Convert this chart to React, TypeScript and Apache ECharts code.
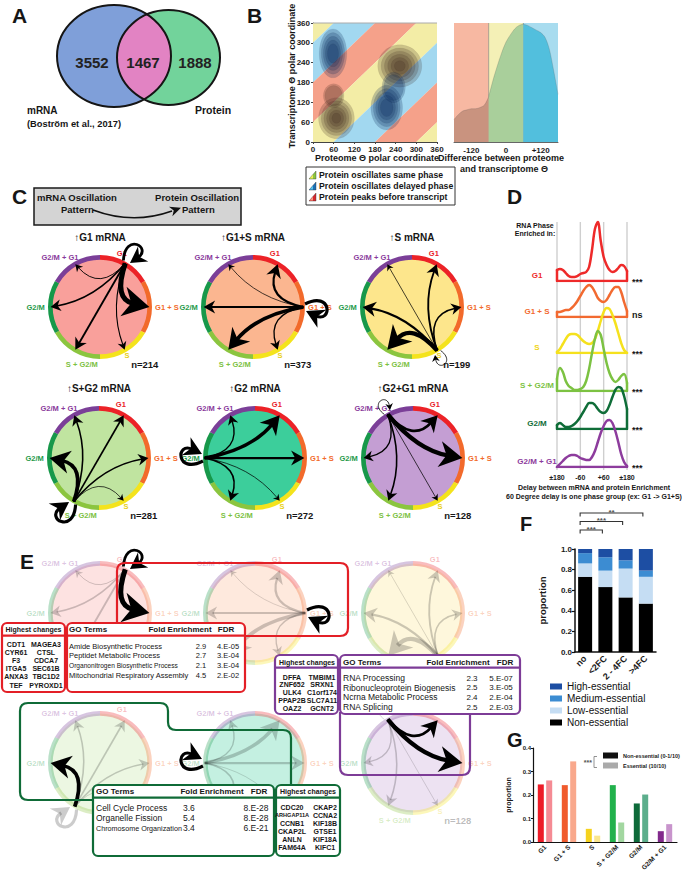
import React, { useEffect, useRef } from "react";
import * as echarts from "echarts";

const FONT = "'Liberation Sans', Arial, Helvetica, sans-serif";

/* ======================= DATA ======================= */
// A – Venn
const vennCounts = [3552, 1467, 1888];
const vennSetNames = ["mRNA", "Protein"];
const vennCitation = "(Boström et al., 2017)";

// B – left: proteome vs transcriptome polar coordinates
const polarTicks = [0, 60, 120, 180, 240, 300, 360];
const bandEdges = [-360, -300, -180, -60, 60, 180, 300, 360]; // proteome - transcriptome
const bandKinds = [0, 1, 2, 0, 1, 2, 0]; // 0 same, 1 delayed, 2 before
const densityPeaks = [[68, 72], [252, 230], [58, 268], [214, 104], [234, 165], [60, 140]];
const densitySpread = [[52, 62], [64, 64], [40, 74], [46, 68], [34, 46], [30, 36]];
const densityLevels = [6, 6, 5, 5, 2, 2];

// B – right: density of differences
const diffX = [-180, -165, -150, -135, -120, -105, -90, -75, -60, -45, -30, -15, 0, 15, 30, 45, 60, 75, 90, 105, 120, 135, 150, 165, 180];
const diffDensity = [0.19, 0.23, 0.26, 0.27, 0.28, 0.28, 0.29, 0.31, 0.38, 0.52, 0.64, 0.75, 0.84, 0.9, 0.95, 0.98, 0.99, 0.98, 0.96, 0.94, 0.92, 0.88, 0.78, 0.6, 0.4];
const diffTicks = [-120, 0, 120];
const diffBands = [[-180, -60, 2], [-60, 60, 0], [60, 180, 1]];
const bandLegend = ["Protein oscillates same phase", "Protein oscillates delayed phase", "Protein peaks before transcript"];

// C – transitions between phases
const phaseNames = ["G1", "G1 + S", "S", "S + G2/M", "G2/M", "G2/M + G1"];
const circleTitles = ["G1 mRNA", "G1+S mRNA", "S mRNA", "S+G2 mRNA", "G2 mRNA", "G2+G1 mRNA"];
const circleN = [214, 373, 199, 281, 272, 128];
const transitions = [
  [2.6, 5.0, 0.8, 1.6, 1.3, 0.6],
  [2.0, 3.0, 1.0, 3.6, 1.6, 0.4],
  [1.6, 1.3, 0.5, 4.2, 2.0, 0.4],
  [1.4, 1.3, 0.4, 3.0, 3.6, 1.3],
  [3.2, 2.0, 0.4, 1.3, 3.0, 1.1],
  [2.6, 4.2, 0.4, 1.3, 1.1, 0.5],
];
const eHighlight = [[0, 1], [1], [], [4], [4], [0, 1]];

// D – delay ridgelines
const ridgeDelay = [-180, -165, -150, -135, -120, -105, -90, -75, -60, -45, -30, -15, 0, 15, 30, 45, 60, 75, 90, 105, 120, 135, 150, 165, 180];
const ridgeG1 = [11, 12, 11, 8, 5, 4, 4, 5, 7, 8, 9, 14, 31, 52, 59, 40, 24, 16, 11, 9, 10, 13, 16, 15, 10];
const ridgeG1S = [5, 5, 6, 7, 7, 9, 12, 16, 21, 26, 30, 32, 30, 25, 19, 16, 15, 17, 22, 27, 30, 30, 25, 15, 6];
const ridgeS = [1, 4, 9, 14, 18, 19, 19, 18, 15, 12, 10, 9, 10, 14, 22, 32, 41, 45, 44, 38, 30, 20, 10, 3, 0];
const ridgeSG2M = [12, 23, 19, 10, 5, 3, 1, 1, 2, 4, 10, 22, 38, 52, 60, 56, 42, 28, 18, 12, 9, 11, 15, 17, 8];
const ridgeG2M = [4, 6, 4, 2, 2, 3, 5, 8, 12, 17, 22, 26, 26, 24, 20, 17, 16, 18, 24, 32, 39, 42, 41, 33, 20];
const ridgeG2MG1 = [0, 3, 6, 9, 11, 12, 12, 11, 9, 8, 7, 7, 10, 16, 25, 34, 41, 46, 47, 44, 36, 25, 13, 5, 1];
const ridgeSig = ["***", "ns", "***", "***", "***", "***"];
const ridgeTickValues = [-180, -60, 60, 180];
const ridgeTickLabels = ["±180", "-60", "+60", "±180"];

// E – tables
const redGenes = [["CDT1", "MAGEA3"], ["CYR61", "CTSL"], ["F3", "CDCA7"], ["ITGA5", "SEC61B"], ["ANXA3", "TBC1D2"], ["TEF", "PYROXD1"]];
const redGO: [string, number, string][] = [["Amide Biosynthetic Process", 2.9, "4.E-05"], ["Peptidet Metabolic Process", 2.7, "3.E-04"], ["Organonitrogen Biosynthetic Process", 2.1, "3.E-04"], ["Mitochondrial Respiratory Assembly", 4.5, "2.E-02"]];
const purpleGenes = [["DFFA", "TMBIM1"], ["ZNF652", "SRXN1"], ["ULK4", "C1orf174"], ["PPAP2B", "SLC7A11"], ["OAZ2", "GCNT2"]];
const purpleGO: [string, number, string][] = [["RNA Processing", 2.3, "5.E-07"], ["Ribonucleoprotein Biogenesis", 2.5, "3.E-05"], ["Ncrna Metabolic Process", 2.4, "2.E-04"], ["RNA Splicing", 2.5, "2.E-03"]];
const greenGenes = [["CDC20", "CKAP2"], ["ARHGAP11A", "CCNA2"], ["CCNB1", "KIF18B"], ["CKAP2L", "GTSE1"], ["ANLN", "KIF18A"], ["FAM64A", "KIFC1"]];
const greenGO: [string, number, string][] = [["Cell Cycle Process", 3.6, "8.E-28"], ["Organelle Fission", 5.4, "8.E-28"], ["Chromosome Organization", 3.4, "6.E-21"]];

// F – essentiality by fold change
const fCats = ["no", "<2FC", "2 - 4FC", ">4FC"];
const fNon = [0.73, 0.63, 0.53, 0.47];
const fLow = [0.13, 0.16, 0.28, 0.26];
const fMed = [0.1, 0.13, 0.08, 0.06];
const fHigh = [0.04, 0.08, 0.11, 0.21];
const fSigPairs = [[0, 1], [0, 2], [0, 3]];
const fSigLabels = ["***", "***", "**"];

// G – phase proportion by essentiality
const gCats = ["G1", "G1 + S", "S", "S + G2/M", "G2/M", "G2/M + G1"];
const gNon = [0.245, 0.242, 0.056, 0.242, 0.164, 0.046];
const gEss = [0.262, 0.343, 0.027, 0.083, 0.202, 0.076];
const gSeriesNames = ["Non-essential (0-1/10)", "Essential (10/10)"];

/* ======================= STYLE / LAYOUT ======================= */
const BAND_HEAT = ["#f3eda6", "#a2d8f0", "#f5a18a"];
const BAND_LIGHT = ["#f4f0b6", "#a8dcef", "#f7b8a2"];
const DENS_FILL = ["#a9cf9b", "#52bfdd", "#c9937f"];
const phaseColors = ["#ec2227", "#f26a2b", "#f4e31c", "#8bc53f", "#17984a", "#7b3f98"];
const phaseLabelColors = ["#ea2128", "#f26a2b", "#e8cf16", "#7cc142", "#1f9a4a", "#8a3a9c"];
const circleFills = ["#f9a09b", "#fbb690", "#fde68c", "#c0e4a0", "#3cce9b", "#c49ed3"];
const labelPos: [number, number, string][] = [[0.42, -1.03, "center"], [1.06, 0, "left"], [0.52, 0.93, "center"], [-0.35, 1.1, "center"], [-1.06, 0, "right"], [-0.77, -0.95, "center"]];
const ridgeColors = ["#ee2a2a", "#f26a30", "#f5e11d", "#7cc242", "#0f6d38", "#8d3c9d"];
const ridgeBase = [281, 317, 353, 391, 429, 467];
const gNonColors = ["#ed1c28", "#f05a2c", "#f5d21e", "#22b14c", "#0e6b3a", "#822a8c"];
const gEssColors = ["#f58b94", "#f9a88c", "#fae68e", "#a2d7a0", "#5cae8c", "#c894cc"];
const cCenters = [[100, 307], [253, 307], [412, 307], [99, 458], [255, 458], [413, 458]];
const eCenters = [[100, 613], [255, 613], [413, 613], [100, 763], [255, 763], [413, 763]];
const eHiddenLabels = [[2, 3], [2, 3], [2, 3], [2, 3], [0, 2, 3], [0, 5]];
const eShowN = [false, false, false, false, false, true];
const CR = 52;
const RED = "#e31f26", PURPLE = "#7d3c97", DKGREEN = "#0f6b37";
const OUTLINES: [string, string, string][] = [
  ["eOutlineRed", "M117,623 L117,571 Q117,563 125,563 L340,563 Q348,563 348,571 L348,628 Q348,636 340,636 L245,636", RED],
  ["eOutlineGreen", "M93,800 L28,800 Q20,800 20,792 L20,711 Q20,703 28,703 L160,703 Q168,703 168,711 L168,722 Q168,730 176,730 L283,730 Q291,730 291,738 L291,785", DKGREEN],
  ["eOutlinePurple", "M340,712 L340,767 Q340,775 348,775 L462,775 Q470,775 470,767 L470,712", PURPLE],
];

/* ======================= HELPERS ======================= */
function textStyle(text: string, size: number, o: any) {
  const align = o.align || "left";
  const va = o.va || "middle";
  return {
    text, fill: o.color || "#161616", fontSize: size, fontWeight: o.weight || "bold", fontFamily: FONT,
    align, verticalAlign: va, textAlign: align, textVerticalAlign: va, opacity: o.opacity ?? 1,
  };
}
function T(x: number, y: number, text: string, size: number, o: any = {}) {
  return { type: "text", x, y, rotation: o.rot || 0, z: 60, silent: true, style: textStyle(text, size, o) };
}
function CT(x: number, y: number, text: string, size: number, o: any = {}) {
  return { type: "text", x, y, silent: true, style: textStyle(text, size, o) };
}
function clipHalf(poly: number[][], a: number, b: number, c: number) {
  const out: number[][] = [];
  for (let i = 0; i < poly.length; i++) {
    const p = poly[i], q = poly[(i + 1) % poly.length];
    const fp = a * p[0] + b * p[1] + c, fq = a * q[0] + b * q[1] + c;
    if (fp >= 0) out.push(p);
    if ((fp >= 0) !== (fq >= 0)) {
      const t = fp / (fp - fq);
      out.push([p[0] + (q[0] - p[0]) * t, p[1] + (q[1] - p[1]) * t]);
    }
  }
  return out;
}
function clipConvex(poly: number[][], clip: number[][]) {
  let cx = 0, cy = 0;
  clip.forEach((p) => { cx += p[0]; cy += p[1]; });
  cx /= clip.length; cy /= clip.length;
  let out = poly;
  for (let i = 0; i < clip.length; i++) {
    const p = clip[i], q = clip[(i + 1) % clip.length];
    let a = -(q[1] - p[1]), b = q[0] - p[0];
    let c = -(a * p[0] + b * p[1]);
    if (a * cx + b * cy + c < 0) { a = -a; b = -b; c = -c; }
    out = clipHalf(out, a, b, c);
  }
  return out;
}
function ellipsePoly(cx: number, cy: number, rx: number, ry: number, n = 120) {
  const pts: number[][] = [];
  for (let i = 0; i < n; i++) {
    const a = (2 * Math.PI * i) / n;
    pts.push([cx + rx * Math.cos(a), cy + ry * Math.sin(a)]);
  }
  return pts;
}
function bandKindAt(d: number) {
  for (let i = 0; i < bandKinds.length; i++) if (d >= bandEdges[i] && d < bandEdges[i + 1]) return bandKinds[i];
  return 0;
}
function arrowHead(tip: number[], dir: number[], len: number, hw: number) {
  const px = -dir[1], py = dir[0];
  const base = [tip[0] - dir[0] * len, tip[1] - dir[1] * len];
  const notch = [tip[0] - dir[0] * len * 0.7, tip[1] - dir[1] * len * 0.7];
  return [tip, [base[0] + px * hw, base[1] + py * hw], notch, [base[0] - px * hw, base[1] - py * hw]];
}

function circleBase(ci: number, faded: boolean, hiddenLabels: number[], showN: boolean) {
  return (_p: any, api: any) => {
    const c = api.coord([0, 0]);
    const R = api.size([1, 1])[0];
    const op = faded ? 0.3 : 1;
    const ch: any[] = [];
    ch.push({ type: "circle", shape: { cx: c[0], cy: c[1], r: R * 0.95 }, style: { fill: circleFills[ci], opacity: op } });
    for (let i = 0; i < 6; i++) {
      const s = ((60 * i - 90) * Math.PI) / 180;
      ch.push({ type: "sector", shape: { cx: c[0], cy: c[1], r0: R * 0.91, r: R, startAngle: s, endAngle: s + Math.PI / 3, clockwise: true }, style: { fill: phaseColors[i], opacity: op } });
      if (hiddenLabels.indexOf(i) >= 0) continue;
      const lp = labelPos[i];
      ch.push(CT(c[0] + lp[0] * R, c[1] + lp[1] * R, phaseNames[i], 7.5, { color: phaseLabelColors[i], align: lp[2], opacity: op }));
    }
    if (!faded) ch.push(CT(c[0], c[1] - R * 1.33, "\u2191" + circleTitles[ci], 10, { align: "center" }));
    if (showN) ch.push(CT(c[0] + 0.6 * R, c[1] + 1.1 * R, "n=" + circleN[ci], 9.5, { opacity: op }));
    return { type: "group", children: ch };
  };
}

function chordRender(src: number, faded: boolean) {
  return (_p: any, api: any) => {
    const t = api.value(0), w = api.value(1), hi = api.value(2);
    if (!(w > 0)) return null;
    const c = api.coord([0, 0]);
    const R = api.size([1, 1])[0];
    const ang = (i: number) => ((30 + 60 * i) * Math.PI) / 180;
    const P = (i: number, rr: number) => [c[0] + R * rr * Math.sin(ang(i)), c[1] - R * rr * Math.cos(ang(i))];
    const op = faded && !hi ? 0.2 : 1;
    const lw = 0.35 + w * 0.95;
    const hlen = 4.5 + w * 4.4, hw = 2.6 + w * 2.5;
    let start: number[], cp1: number[], cp2: number[] | null = null, tip: number[];
    if (t === src) {
      const a = ang(src);
      const u = [Math.sin(a), -Math.cos(a)], tg = [Math.cos(a), Math.sin(a)];
      const S = P(src, 1.0);
      const L = 12 + w * 3;
      start = [S[0] - tg[0] * 3, S[1] - tg[1] * 3];
      cp1 = [S[0] + u[0] * L * 1.3 - tg[0] * L * 0.8, S[1] + u[1] * L * 1.3 - tg[1] * L * 0.8];
      cp2 = [S[0] + u[0] * L * 1.3 + tg[0] * L * 0.8, S[1] + u[1] * L * 1.3 + tg[1] * L * 0.8];
      tip = [S[0] + u[0] * 1 + tg[0] * 4, S[1] + u[1] * 1 + tg[1] * 4];
    } else {
      start = P(src, 0.97);
      tip = P(t, 0.95);
      cp1 = [c[0] + ((start[0] + tip[0]) / 2 - c[0]) * 0.35, c[1] + ((start[1] + tip[1]) / 2 - c[1]) * 0.35];
    }
    const from = cp2 || cp1;
    let dx = tip[0] - from[0], dy = tip[1] - from[1];
    const dl = Math.hypot(dx, dy) || 1;
    dx /= dl; dy /= dl;
    const end = [tip[0] - dx * hlen * 0.6, tip[1] - dy * hlen * 0.6];
    const shape: any = { x1: start[0], y1: start[1], cpx1: cp1[0], cpy1: cp1[1], x2: end[0], y2: end[1] };
    if (cp2) { shape.cpx2 = cp2[0]; shape.cpy2 = cp2[1]; }
    return {
      type: "group",
      children: [
        { type: "bezierCurve", shape, style: { stroke: "#000", lineWidth: lw, fill: null, opacity: op } },
        { type: "polygon", shape: { points: arrowHead(tip, [dx, dy], hlen, hw) }, style: { fill: "#000", opacity: op } },
      ],
    };
  };
}

/* ======================= OPTION ======================= */
function buildOption(): any {
  const grid: any[] = [], xAxis: any[] = [], yAxis: any[] = [], series: any[] = [], graphic: any[] = [];
  const addGrid = (left: number, top: number, width: number, height: number, xa: any, ya: any) => {
    grid.push({ left, top, width, height, containLabel: false });
    const gi = grid.length - 1;
    xAxis.push({ gridIndex: gi, ...xa });
    yAxis.push({ gridIndex: gi, ...ya });
    return gi;
  };
  const hidden = (min: number, max: number) => ({ type: "value", min, max, show: false, splitLine: { show: false } });
  const lbl = (size: number) => ({ fontFamily: FONT, fontWeight: "bold", fontSize: size, color: "#1a1a1a" });

  // ----- panel letters -----
  graphic.push(T(12, 15, "A", 21), T(247, 15, "B", 21), T(12, 196, "C", 21), T(507, 196, "D", 21));
  graphic.push(T(20, 561, "E", 21), T(520, 524, "F", 20), T(507, 740, "G", 20));

  // ----- A: Venn -----
  const bE = [114, 56, 57, 51], gE = [168.5, 57.5, 51.5, 47.5];
  const lens = clipConvex(ellipsePoly(bE[0], bE[1], bE[2], bE[3]), ellipsePoly(gE[0], gE[1], gE[2], gE[3]));
  graphic.push({ type: "ellipse", z: 50, silent: true, shape: { cx: bE[0], cy: bE[1], rx: bE[2], ry: bE[3] }, style: { fill: "#7f9fd9" } });
  graphic.push({ type: "ellipse", z: 50, silent: true, shape: { cx: gE[0], cy: gE[1], rx: gE[2], ry: gE[3] }, style: { fill: "#72d39b" } });
  graphic.push({ type: "polygon", z: 51, silent: true, shape: { points: lens }, style: { fill: "#e283c3" } });
  graphic.push({ type: "ellipse", z: 52, silent: true, shape: { cx: bE[0], cy: bE[1], rx: bE[2], ry: bE[3] }, style: { fill: null, stroke: "#151515", lineWidth: 2 } });
  graphic.push({ type: "ellipse", z: 52, silent: true, shape: { cx: gE[0], cy: gE[1], rx: gE[2], ry: gE[3] }, style: { fill: null, stroke: "#151515", lineWidth: 2 } });
  graphic.push(T(92, 62, String(vennCounts[0]), 15, { align: "center", color: "#222" }));
  graphic.push(T(143, 62, String(vennCounts[1]), 15, { align: "center", color: "#222" }));
  graphic.push(T(195, 62, String(vennCounts[2]), 15, { align: "center", color: "#222" }));
  graphic.push(T(27, 110, vennSetNames[0], 10), T(27, 124, vennCitation, 9.3), T(195, 110, vennSetNames[1], 10.5));

  // ----- B left -----
  const axisB = () => ({
    type: "value", min: 0, max: 360,
    axisLine: { show: true, lineStyle: { color: "#444", width: 1 } },
    axisTick: { show: true, length: 2, customValues: polarTicks, lineStyle: { color: "#444" } },
    axisLabel: { ...lbl(8), margin: 3, customValues: polarTicks },
    splitLine: { show: false },
  });
  const gHeat = addGrid(313, 23, 124, 119, axisB(), axisB());
  series.push({
    type: "custom", xAxisIndex: gHeat, yAxisIndex: gHeat, silent: true, z: 1,
    data: bandKinds.map((k, i) => [i, k]),
    renderItem: (p: any, api: any) => {
      const i = p.dataIndex;
      let poly = [[0, 0], [360, 0], [360, 360], [0, 360]];
      poly = clipHalf(poly, 1, -1, -bandEdges[i]);
      poly = clipHalf(poly, -1, 1, bandEdges[i + 1]);
      if (poly.length < 3) return null;
      return { type: "polygon", shape: { points: poly.map((q) => api.coord(q)) }, style: { fill: BAND_HEAT[bandKinds[i]] } };
    },
  });
  series.push({
    type: "custom", xAxisIndex: gHeat, yAxisIndex: gHeat, silent: true, z: 2,
    data: densityPeaks,
    renderItem: (p: any, api: any) => {
      const i = p.dataIndex;
      const pk = densityPeaks[i];
      const c = api.coord(pk);
      const s = api.size(densitySpread[i]);
      const fill = bandKindAt(pk[0] - pk[1]) === 1 ? "rgba(8,40,90,0.23)" : "rgba(60,36,30,0.21)";
      const ch: any[] = [];
      for (let l = 0; l < densityLevels[i]; l++) {
        const f = 1 - l * 0.15;
        ch.push({ type: "ellipse", shape: { cx: c[0], cy: c[1], rx: s[0] * f, ry: s[1] * f }, style: { fill, stroke: "rgba(0,0,0,0.07)", lineWidth: 0.6 } });
      }
      return { type: "group", children: ch };
    },
  });
  graphic.push({ type: "line", z: 55, silent: true, shape: { x1: 313, y1: 23, x2: 437, y2: 23 }, style: { stroke: "#aaa", lineWidth: 1 } });
  graphic.push(T(292, 76, "Transcriptome Θ polar coordinate", 9, { align: "center", rot: Math.PI / 2 }));
  graphic.push(T(377, 158, "Proteome Θ polar coordinate", 9, { align: "center" }));

  // ----- B right -----
  const gDiff = addGrid(454, 23, 104, 119,
    {
      type: "value", min: -180, max: 180,
      axisLine: { show: true, lineStyle: { color: "#666" } }, axisTick: { show: false },
      axisLabel: { ...lbl(8), margin: 4, customValues: diffTicks, formatter: (v: number) => (v > 0 ? "+" + v : String(v)) },
      splitLine: { show: false },
    },
    hidden(0, 1));
  series.push({
    type: "custom", xAxisIndex: gDiff, yAxisIndex: gDiff, silent: true, z: 1,
    data: diffBands,
    renderItem: (p: any, api: any) => {
      const a = api.coord([api.value(0), 1]);
      const b = api.coord([api.value(1), 0]);
      const ch: any[] = [{ type: "rect", shape: { x: a[0], y: a[1], width: b[0] - a[0], height: b[1] - a[1] }, style: { fill: BAND_LIGHT[api.value(2)] } }];
      if (p.dataIndex > 0) ch.push({ type: "line", shape: { x1: a[0], y1: a[1], x2: a[0], y2: b[1] }, style: { stroke: "rgba(90,90,90,0.6)", lineWidth: 0.8 } });
      return { type: "group", children: ch };
    },
  });
  diffBands.forEach((bd) => {
    const pts = diffX.map((x, i) => [x, diffDensity[i]]).filter((q) => q[0] >= bd[0] && q[0] <= bd[1]);
    series.push({
      type: "line", xAxisIndex: gDiff, yAxisIndex: gDiff, data: pts, smooth: 0.3, symbol: "none", silent: true, z: 2,
      lineStyle: { width: 0.6, color: "rgba(80,80,80,0.35)" }, areaStyle: { color: DENS_FILL[bd[2]], opacity: 1 },
    });
  });
  graphic.push(T(501, 158, "Difference between proteome", 9, { align: "center" }));
  graphic.push(T(504, 169, "and transcriptome Θ", 9, { align: "center" }));

  // B legend box
  graphic.push({ type: "rect", z: 55, silent: true, shape: { x: 306, y: 167, width: 149, height: 38 }, style: { fill: "#fff", stroke: "#333", lineWidth: 1 } });
  const bIcon = [["#f2ea5a", "#8cc63f"], ["#59c3ea", "#1b6fb6"], ["#f59a82", "#d7282d"]];
  bandLegend.forEach((label, i) => {
    const y = 175 + i * 11, x = 309;
    graphic.push({ type: "polygon", z: 56, silent: true, shape: { points: [[x, y + 4], [x + 7, y - 4], [x + 7, y + 4]] }, style: { fill: bIcon[i][1], stroke: "#333", lineWidth: 0.4 } });
    graphic.push({ type: "polygon", z: 57, silent: true, shape: { points: [[x + 0.6, y + 3.6], [x + 4, y - 0.2], [x + 4, y + 3.6]] }, style: { fill: bIcon[i][0] } });
    graphic.push(T(x + 10, y, label, 8.7));
  });

  // ----- C header box -----
  graphic.push({ type: "rect", z: 55, silent: true, shape: { x: 34, y: 188, width: 207, height: 37 }, style: { fill: "#d4d4d4", stroke: "#1a1a1a", lineWidth: 1.5 } });
  graphic.push(T(37, 197, "mRNA Oscillation", 9.5), T(61, 209, "Pattern", 9.5));
  graphic.push(T(239, 197, "Protein Oscillation", 9.5, { align: "right" }), T(182, 209, "Pattern", 9.5));
  graphic.push({ type: "bezierCurve", z: 56, silent: true, shape: { x1: 93, y1: 210, cpx1: 133, cpy1: 225, x2: 172, y2: 211 }, style: { stroke: "#111", lineWidth: 1.6, fill: null } });
  graphic.push({ type: "polygon", z: 57, silent: true, shape: { points: arrowHead([181, 207.8], [0.94, -0.34], 11, 5) }, style: { fill: "#111" } });

  // ----- C & E circles -----
  const addCircle = (ci: number, center: number[], faded: boolean, highlight: number[], hiddenLabels: number[], showN: boolean) => {
    const k = 70 / CR;
    const gi = addGrid(center[0] - 70, center[1] - 70, 140, 140, hidden(-k, k), hidden(-k, k));
    series.push({ type: "custom", xAxisIndex: gi, yAxisIndex: gi, silent: true, z: 2, data: [[0, 0]], renderItem: circleBase(ci, faded, hiddenLabels, showN) });
    series.push({
      type: "custom", xAxisIndex: gi, yAxisIndex: gi, silent: true, z: 3,
      data: transitions[ci].map((w, t) => [t, w, highlight.indexOf(t) >= 0 ? 1 : 0]),
      renderItem: chordRender(ci, faded),
    });
  };
  cCenters.forEach((c, i) => addCircle(i, c, false, [], [], true));
  eCenters.forEach((c, i) => addCircle(i, c, true, eHighlight[i], eHiddenLabels[i], eShowN[i]));

  // ----- D ridgelines -----
  const gDF = addGrid(557, 222, 70, 248,
    {
      type: "value", min: -180, max: 180, axisLine: { show: false }, axisTick: { show: false }, splitLine: { show: false },
      axisLabel: { ...lbl(7), margin: 4, customValues: ridgeTickValues, formatter: (v: number) => ridgeTickLabels[ridgeTickValues.indexOf(v)] || "" },
    },
    hidden(0, 1));
  series.push({
    type: "custom", xAxisIndex: gDF, yAxisIndex: gDF, silent: true, z: 1,
    data: ridgeTickValues.map((v) => [v, 0]),
    renderItem: (_p: any, api: any) => {
      const a = api.coord([api.value(0), 1]);
      const b = api.coord([api.value(0), 0]);
      return { type: "line", shape: { x1: a[0], y1: a[1], x2: b[0], y2: b[1] }, style: { stroke: "#cfcfcf", lineWidth: 1.4 } };
    },
  });
  const ridges = [ridgeG1, ridgeG1S, ridgeS, ridgeSG2M, ridgeG2M, ridgeG2MG1];
  ridges.forEach((vals, i) => {
    const gi = addGrid(557, ridgeBase[i] - 62, 70, 62, hidden(-180, 180), hidden(0, 62));
    const ls = { color: ridgeColors[i], width: 2.5, cap: "round", join: "round" };
    series.push({ type: "line", xAxisIndex: gi, yAxisIndex: gi, data: ridgeDelay.map((x, k) => [x, vals[k]]), smooth: 0.35, symbol: "none", silent: true, z: 3, lineStyle: ls });
    series.push({ type: "line", xAxisIndex: gi, yAxisIndex: gi, data: [[-180, vals[0]], [-180, 0], [180, 0], [180, vals[vals.length - 1]]], smooth: false, symbol: "none", silent: true, z: 3, lineStyle: ls });
    graphic.push(T(537, ridgeBase[i] - 6, phaseNames[i], 8, { align: "center", color: ridgeColors[i] === "#f5e11d" ? "#f0d515" : ridgeColors[i] }));
    graphic.push(T(632, ridgeBase[i] + (ridgeSig[i] === "ns" ? -2 : 1), ridgeSig[i], 9));
  });
  graphic.push(T(535, 225, "RNA Phase", 7, { align: "center" }), T(535, 233, "Enriched in:", 7, { align: "center" }));
  graphic.push(T(594, 487, "Delay between mRNA and protein Enrichment", 7, { align: "center" }));
  graphic.push(T(594, 496, "60 Degree delay is one phase group (ex: G1 -> G1+S)", 7, { align: "center" }));

  // ----- F -----
  const gF = addGrid(575, 549, 81, 103,
    { type: "category", data: fCats, axisLine: { show: true, lineStyle: { color: "#111", width: 1.5 } }, axisTick: { show: false }, axisLabel: { ...lbl(9), rotate: 45, margin: 5, interval: 0 } },
    {
      type: "value", min: 0, max: 1, interval: 0.2, name: "proportion", nameLocation: "middle", nameGap: 28, nameTextStyle: lbl(9.5),
      axisLine: { show: true, lineStyle: { color: "#111", width: 1.5 } }, axisTick: { show: true, length: 3, lineStyle: { color: "#111", width: 1.2 } },
      axisLabel: { ...lbl(8), margin: 3, formatter: (v: number) => v.toFixed(1) }, splitLine: { show: false },
    });
  const fStack: [string, number[], string][] = [["Non-essential", fNon, "#000000"], ["Low-essential", fLow, "#c5ddf3"], ["Medium-essential", fMed, "#3c8cd2"], ["High-essential", fHigh, "#1d4ea3"]];
  fStack.forEach(([name, vals, color]) => series.push({ type: "bar", name, stack: "f", xAxisIndex: gF, yAxisIndex: gF, data: vals, barWidth: 14, itemStyle: { color }, silent: true, z: 2 }));
  series.push({
    type: "custom", xAxisIndex: gF, yAxisIndex: gF, silent: true, z: 3,
    data: fSigPairs.map((pr, i) => [pr[0], pr[1], i]),
    renderItem: (_p: any, api: any) => {
      const a = api.coord([api.value(0), 1]);
      const b = api.coord([api.value(1), 1]);
      const lvl = api.value(2);
      const y = a[1] - 19 - lvl * 8.5;
      const x0 = a[0] - 5, x1 = b[0] - 3;
      return {
        type: "group",
        children: [
          { type: "polyline", shape: { points: [[x0, y + 3.5], [x0, y], [x1, y], [x1, y + 3.5]] }, style: { stroke: "#333", lineWidth: 1.1, fill: null } },
          CT((x0 + x1) / 2, y - 1, fSigLabels[lvl], 8, { align: "center", color: "#555" }),
        ],
      };
    },
  });

  // ----- G -----
  const gG = addGrid(533, 748, 144, 94,
    { type: "category", data: gCats, axisLine: { show: true, lineStyle: { color: "#111", width: 1.2 } }, axisTick: { show: false }, axisLabel: { ...lbl(6.5), rotate: 45, margin: 4, interval: 0 } },
    {
      type: "value", min: 0, max: 0.4, interval: 0.1, name: "proportion", nameLocation: "middle", nameGap: 21, nameTextStyle: lbl(7),
      axisLine: { show: true, lineStyle: { color: "#111", width: 1.2 } }, axisTick: { show: true, length: 2, lineStyle: { color: "#111" } },
      axisLabel: { ...lbl(6), margin: 2, formatter: (v: number) => v.toFixed(1) }, splitLine: { show: false },
    });
  series.push({ type: "bar", name: gSeriesNames[0], xAxisIndex: gG, yAxisIndex: gG, data: gNon.map((v, i) => ({ value: v, itemStyle: { color: gNonColors[i] } })), barWidth: 6, barGap: "40%", itemStyle: { color: "#111" }, silent: true });
  series.push({ type: "bar", name: gSeriesNames[1], xAxisIndex: gG, yAxisIndex: gG, data: gEss.map((v, i) => ({ value: v, itemStyle: { color: gEssColors[i] } })), barWidth: 6, barGap: "40%", itemStyle: { color: "#aaaaaa" }, silent: true });
  graphic.push(T(592, 762, "***", 7, { align: "right", color: "#555" }));
  graphic.push({ type: "polyline", z: 56, silent: true, shape: { points: [[597, 756.5], [594, 756.5], [594, 767.5], [597, 767.5]] }, style: { stroke: "#777", lineWidth: 0.8, fill: null } });

  // ----- E outlines and tables -----
  OUTLINES.forEach(([name, , color]) => {
    graphic.push({ type: name, z: 58, silent: true, style: { fill: "none", stroke: color, lineWidth: 2.2 } });
  });
  const table = (x: number, y: number, w: number, h: number, color: string) => {
    graphic.push({ type: "rect", z: 59, silent: true, shape: { x, y, width: w, height: h, r: 5 }, style: { fill: "#fff", stroke: color, lineWidth: 2.2 } });
    graphic.push({ type: "rect", z: 59, silent: true, shape: { x: x + 1, y: y + 11.5, width: w - 2, height: 2.2 }, style: { fill: color } });
  };
  // red
  table(2, 623, 63, 69, RED);
  table(67, 623, 178, 69, RED);
  graphic.push(T(33.5, 629, "Highest changes", 7, { align: "center" }));
  redGenes.forEach((r, i) => { graphic.push(T(16, 644 + i * 8.2, r[0], 7, { align: "center" }), T(46, 644 + i * 8.2, r[1], 7, { align: "center" })); });
  graphic.push(T(69, 629, "GO Terms", 8), T(180, 629, "Fold Enrichment", 8, { align: "center" }), T(226, 629, "FDR", 8, { align: "center" }));
  redGO.forEach((r, i) => {
    const y = 646 + i * 9.7;
    graphic.push(T(69, y, r[0], i === 2 ? 6.6 : 7.5, { weight: "normal" }), T(201, y, r[1].toFixed(1), 7.5, { weight: "normal", align: "center" }), T(228, y, r[2], 7.5, { weight: "normal", align: "center" }));
  });
  // purple
  table(275, 655, 63, 59, PURPLE);
  table(340, 655, 180, 59, PURPLE);
  graphic.push(T(307, 662, "Highest changes", 7, { align: "center" }));
  purpleGenes.forEach((r, i) => { graphic.push(T(292, 677 + i * 7.8, r[0], 7, { align: "center" }), T(322, 677 + i * 7.8, r[1], 7, { align: "center" })); });
  graphic.push(T(343, 662, "GO Terms", 8), T(458, 662, "Fold Enrichment", 8, { align: "center" }), T(505, 662, "FDR", 8, { align: "center" }));
  purpleGO.forEach((r, i) => {
    const y = 678 + i * 9.7;
    graphic.push(T(343, y, r[0], 8.5, { weight: "normal" }), T(472, y, r[1].toFixed(1), 8, { weight: "normal", align: "center" }), T(501, y, r[2], 8, { weight: "normal", align: "center" }));
  });
  // green
  table(93, 785, 181, 71, DKGREEN);
  table(276, 785, 64, 71, DKGREEN);
  graphic.push(T(308, 791, "Highest changes", 7, { align: "center" }));
  greenGenes.forEach((r, i) => { graphic.push(T(292, 807 + i * 8, r[0], r[0].length > 7 ? 5.6 : 7, { align: "center" }), T(325, 807 + i * 8, r[1], 7, { align: "center" })); });
  graphic.push(T(96, 791, "GO Terms", 8), T(212, 791, "Fold Enrichment", 8, { align: "center" }), T(259, 791, "FDR", 8, { align: "center" }));
  greenGO.forEach((r, i) => {
    const y = 808 + i * 10;
    graphic.push(T(96, y, r[0], i === 2 ? 7.2 : 8.5, { weight: "normal" }), T(183, y, r[1].toFixed(1), 8.5, { weight: "normal" }), T(256, y, r[2], 8.5, { weight: "normal", align: "center" }));
  });

  const legend = [
    {
      data: ["High-essential", "Medium-essential", "Low-essential", "Non-essential"], orient: "vertical", left: 550, top: 681, padding: 0,
      itemWidth: 12, itemHeight: 6, itemGap: 1, selectedMode: false, icon: "rect",
      textStyle: { fontFamily: FONT, fontSize: 10, color: "#111", lineHeight: 11 },
    },
    {
      data: gSeriesNames, orient: "vertical", left: 603, top: 752, padding: 0,
      itemWidth: 15, itemHeight: 6, itemGap: 3, selectedMode: false, icon: "rect",
      textStyle: { ...lbl(5.5), lineHeight: 7 },
    },
  ];

  return { animation: false, backgroundColor: "#ffffff", grid, xAxis, yAxis, series, legend, graphic: { elements: graphic } };
}

function registerShapes() {
  OUTLINES.forEach(([name, d]) => {
    echarts.graphic.registerShape(name, echarts.graphic.extendPath(d, {}) as any);
  });
}

export default function App() {
  const ref = useRef<HTMLDivElement>(null);
  useEffect(() => {
    if (!ref.current) return;
    registerShapes();
    const chart = echarts.init(ref.current, undefined, { renderer: "svg" });
    chart.setOption(buildOption());
    return () => {
      chart.dispose();
    };
  }, []);
  return <div ref={ref} style={{ position: "absolute", left: 0, top: 0, width: 682, height: 874, background: "#ffffff" }} />;
}
